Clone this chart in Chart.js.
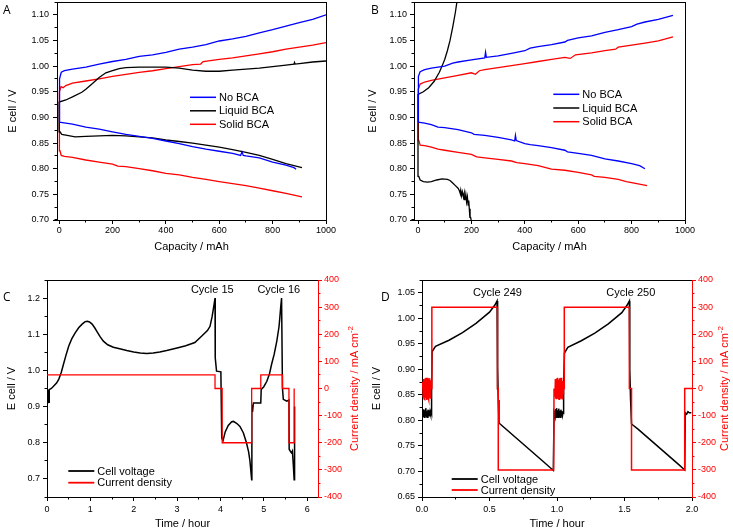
<!DOCTYPE html>
<html>
<head>
<meta charset="utf-8">
<script src="https://cdn.jsdelivr.net/npm/chart.js@4.4.0/dist/chart.umd.min.js"></script>
<style>
  body { margin: 0; background: #fff; width: 733px; height: 531px; position: relative; overflow: hidden; }
  canvas { position: absolute; }
  .letter { position: absolute; font: 12px "Open Sans", sans-serif; line-height: 12px; color: #000; }
</style>
</head>
<body>
<canvas id="chartA" width="366" height="262" style="left:0;top:0"></canvas>
<canvas id="chartB" width="367" height="262" style="left:366px;top:0"></canvas>
<canvas id="chartC" width="366" height="269" style="left:0;top:262px"></canvas>
<canvas id="chartD" width="367" height="269" style="left:366px;top:262px"></canvas>
<div class="letter" style="left:3px;top:4px">A</div>
<div class="letter" style="left:371px;top:4px">B</div>
<div class="letter" style="left:3px;top:291px">C</div>
<div class="letter" style="left:381px;top:291px">D</div>
<script>
// panel A: [capacity mAh, E cell V]
const noBcaChargeA = [[0,0.955],[3,0.975],[8,0.988],[20,0.991],[50,0.994],[100,0.998],[150,1.004],[200,1.009],[250,1.013],[300,1.019],[350,1.022],[400,1.027],[450,1.033],[500,1.037],[550,1.042],[600,1.049],[650,1.053],[700,1.058],[750,1.065],[800,1.071],[850,1.078],[900,1.085],[950,1.091],[1000,1.100]];
const noBcaDischargeA = [[0,0.891],[25,0.889],[50,0.887],[100,0.881],[150,0.877],[200,0.872],[250,0.867],[300,0.863],[350,0.859],[400,0.854],[450,0.849],[500,0.843],[550,0.838],[600,0.834],[650,0.830],[680,0.826],[685,0.833],[690,0.826],[700,0.825],[750,0.821],[800,0.813],[850,0.807],[880,0.802],[888,0.799]];
const liquidChargeA = [[0,0.930],[25,0.934],[50,0.940],[85,0.949],[100,0.955],[125,0.966],[150,0.978],[175,0.987],[200,0.991],[225,0.995],[250,0.997],[300,0.998],[350,0.998],[400,0.998],[450,0.996],[500,0.992],[550,0.990],[600,0.990],[650,0.992],[700,0.994],[750,0.996],[800,0.999],[850,1.002],[880,1.004],[882,1.007],[884,1.004],[900,1.005],[950,1.008],[1000,1.010]];
const liquidDischargeA = [[0,0.889],[3,0.872],[10,0.867],[30,0.865],[60,0.862],[100,0.863],[150,0.864],[200,0.865],[250,0.864],[300,0.862],[350,0.860],[400,0.856],[450,0.853],[500,0.850],[550,0.846],[600,0.842],[650,0.837],[700,0.832],[750,0.826],[800,0.818],[850,0.810],[880,0.806],[910,0.802]];
const solidChargeA = [[0,0.930],[3,0.950],[7,0.960],[15,0.958],[25,0.962],[50,0.967],[100,0.971],[150,0.975],[200,0.980],[250,0.984],[300,0.988],[350,0.991],[400,0.995],[450,0.999],[500,1.003],[530,1.004],[540,1.009],[600,1.013],[650,1.016],[700,1.020],[750,1.024],[800,1.028],[850,1.033],[900,1.037],[950,1.041],[1000,1.046]];
const solidDischargeA = [[0,0.856],[3,0.835],[8,0.826],[20,0.824],[50,0.822],[100,0.817],[150,0.813],[200,0.809],[220,0.805],[250,0.804],[300,0.800],[350,0.796],[400,0.791],[450,0.788],[500,0.783],[550,0.779],[600,0.775],[650,0.771],[700,0.767],[750,0.762],[800,0.757],[850,0.752],[910,0.745]];

// panel B
const noBcaChargeB = [[0,0.958],[3,0.980],[8,0.989],[25,0.993],[50,0.996],[100,1.000],[130,1.006],[150,1.008],[200,1.012],[250,1.016],[253,1.027],[256,1.017],[300,1.020],[350,1.025],[400,1.030],[420,1.035],[450,1.038],[500,1.042],[550,1.047],[560,1.050],[600,1.055],[650,1.059],[700,1.066],[750,1.071],[800,1.077],[820,1.082],[850,1.086],[900,1.091],[955,1.099]];
const noBcaDischargeB = [[0,0.891],[25,0.889],[50,0.886],[75,0.881],[100,0.880],[150,0.876],[200,0.870],[210,0.867],[250,0.865],[300,0.861],[350,0.856],[362,0.854],[365,0.865],[368,0.855],[400,0.849],[420,0.847],[450,0.845],[500,0.841],[550,0.836],[560,0.833],[600,0.830],[650,0.826],[700,0.819],[750,0.815],[800,0.810],[830,0.806],[850,0.800]];
const liquidChargeB = [[0,0.945],[20,0.950],[40,0.958],[60,0.970],[80,0.988],[90,1.000],[100,1.013],[110,1.030],[120,1.050],[130,1.076],[140,1.105],[150,1.140]];
const liquidDischargeB = [[0,0.800],[3,0.785],[8,0.778],[20,0.775],[35,0.774],[50,0.775],[70,0.778],[90,0.780],[110,0.779],[120,0.777],[130,0.772],[140,0.767],[150,0.762],[155,0.757],[158,0.752],[160,0.758],[163,0.747],[166,0.755],[170,0.745],[173,0.752],[176,0.740],[179,0.750],[182,0.735],[185,0.745],[188,0.728],[190,0.738],[193,0.715],[195,0.722],[197,0.705],[199,0.700],[200,0.690]];
const solidChargeB = [[0,0.930],[3,0.955],[8,0.965],[25,0.969],[50,0.972],[100,0.977],[150,0.982],[200,0.987],[215,0.984],[230,0.991],[250,0.993],[300,0.997],[350,1.001],[400,1.005],[450,1.009],[500,1.013],[550,1.017],[570,1.015],[590,1.022],[650,1.026],[700,1.030],[740,1.033],[750,1.037],[800,1.041],[850,1.045],[900,1.049],[955,1.057]];
const solidDischargeB = [[0,0.878],[3,0.855],[8,0.846],[25,0.845],[50,0.842],[75,0.838],[100,0.836],[150,0.832],[200,0.828],[220,0.823],[250,0.821],[300,0.818],[350,0.815],[370,0.812],[400,0.810],[450,0.806],[500,0.799],[550,0.797],[600,0.793],[650,0.788],[660,0.785],[700,0.783],[750,0.779],[780,0.775],[800,0.773],[858,0.767]];

// panel C: [time h, value]
const voltageC = [[0,0.910],[0.008,0.946],[0.016,0.911],[0.024,0.947],[0.032,0.911],[0.040,0.947],[0.048,0.912],[0.052,0.947],[0.10,0.950],[0.15,0.956],[0.22,0.965],[0.27,0.975],[0.33,0.995],[0.38,1.017],[0.44,1.043],[0.50,1.067],[0.57,1.087],[0.65,1.104],[0.73,1.118],[0.81,1.128],[0.88,1.135],[0.93,1.136],[0.98,1.134],[1.04,1.128],[1.10,1.118],[1.15,1.108],[1.22,1.094],[1.30,1.081],[1.40,1.071],[1.53,1.064],[1.70,1.059],[1.84,1.055],[2.00,1.051],[2.15,1.048],[2.30,1.047],[2.45,1.048],[2.60,1.051],[2.76,1.055],[3.00,1.062],[3.20,1.068],[3.41,1.077],[3.57,1.095],[3.70,1.110],[3.76,1.122],[3.81,1.150],[3.85,1.180],[3.875,1.200],[3.88,1.035],[3.91,0.998],[4.01,0.996],[4.03,0.813],[4.06,0.806],[4.11,0.830],[4.18,0.848],[4.26,0.858],[4.30,0.859],[4.38,0.853],[4.45,0.845],[4.53,0.827],[4.60,0.800],[4.65,0.775],[4.68,0.750],[4.72,0.698],[4.725,0.880],[4.73,0.905],[4.74,0.885],[4.76,0.910],[4.80,0.910],[4.93,0.910],[4.94,0.947],[5.00,0.955],[5.07,0.970],[5.13,0.990],[5.18,1.017],[5.24,1.045],[5.30,1.081],[5.35,1.120],[5.37,1.146],[5.39,1.175],[5.41,1.200],[5.43,0.952],[5.45,0.920],[5.53,0.915],[5.58,0.918],[5.585,0.782],[5.62,0.775],[5.64,0.772],[5.66,0.777],[5.68,0.740],[5.70,0.698],[5.71,0.900]];
const currentC = [[0,50],[3.875,50],[3.875,0],[4.04,0],[4.04,-200],[4.72,-200],[4.72,0],[4.93,0],[4.93,50],[5.43,50],[5.43,0],[5.58,0],[5.58,-200],[5.70,-200],[5.70,0]];

// panel D
const voltageD = [[0.005,0.815],[0.010,0.808],[0.013,0.822],[0.017,0.806],[0.020,0.820],[0.024,0.810],[0.028,0.824],[0.032,0.807],[0.036,0.818],[0.040,0.806],[0.044,0.821],[0.048,0.809],[0.052,0.820],[0.056,0.808],[0.060,0.817],[0.064,0.812],[0.068,0.818],[0.070,0.815],[0.072,0.860],[0.075,0.935],[0.10,0.945],[0.20,0.957],[0.30,0.972],[0.40,0.990],[0.50,1.012],[0.54,1.026],[0.556,1.034],[0.558,0.915],[0.560,0.860],[0.562,0.905],[0.565,0.840],[0.570,0.795],[0.60,0.788],[0.70,0.765],[0.80,0.742],[0.90,0.719],[0.973,0.702],[0.978,0.815],[0.985,0.808],[0.989,0.822],[0.993,0.806],[0.997,0.824],[1.001,0.807],[1.005,0.820],[1.009,0.806],[1.013,0.823],[1.017,0.808],[1.021,0.819],[1.025,0.806],[1.029,0.821],[1.033,0.809],[1.037,0.818],[1.041,0.810],[1.045,0.816],[1.048,0.815],[1.050,0.860],[1.055,0.932],[1.08,0.943],[1.18,0.956],[1.28,0.971],[1.38,0.989],[1.48,1.011],[1.52,1.026],[1.536,1.034],[1.538,0.920],[1.540,0.900],[1.545,0.840],[1.552,0.793],[1.60,0.783],[1.70,0.760],[1.80,0.737],[1.90,0.714],[1.946,0.703],[1.950,0.815],[1.960,0.812],[1.970,0.817],[1.980,0.815],[1.995,0.815]];
const currentD = [[0.003,0],[0.006,25],[0.009,-30],[0.012,35],[0.015,-38],[0.018,30],[0.021,-40],[0.024,38],[0.027,-35],[0.030,40],[0.033,-42],[0.036,36],[0.039,-38],[0.042,40],[0.045,-30],[0.048,35],[0.051,-40],[0.054,38],[0.057,-36],[0.060,30],[0.063,-38],[0.066,25],[0.069,0],[0.072,0],[0.074,300],[0.559,300],[0.559,0],[0.565,0],[0.565,-300],[0.975,-300],[0.978,0],[0.985,-30],[0.988,35],[0.991,-38],[0.994,30],[0.997,-40],[1.000,38],[1.003,-35],[1.006,40],[1.009,-36],[1.012,32],[1.015,-40],[1.018,38],[1.021,-30],[1.024,35],[1.027,-38],[1.030,40],[1.033,-35],[1.036,30],[1.039,-38],[1.042,28],[1.045,-20],[1.048,0],[1.053,0],[1.054,300],[1.536,300],[1.536,0],[1.552,0],[1.552,-300],[1.946,-300],[1.946,0],[2.0,0]];

// ticks
const capTicks = [0, 200, 400, 600, 800, 1000];
const voltTicksAB = [0.70, 0.75, 0.80, 0.85, 0.90, 0.95, 1.00, 1.05, 1.10];
const timeTicksC = [0, 1, 2, 3, 4, 5, 6];
const voltTicksC = [0.7, 0.8, 0.9, 1.0, 1.1, 1.2];
const timeTicksD = [0, 0.5, 1.0, 1.5, 2.0];
const voltTicksD = [0.65, 0.70, 0.75, 0.80, 0.85, 0.90, 0.95, 1.00, 1.05];
const currentTicks = [-400, -300, -200, -100, 0, 100, 200, 300, 400];

const FONT = '"Liberation Sans", Arial, sans-serif';
const BLUE = "#0000ff", RED = "#ff0000", BLACK = "#000000";
Chart.defaults.font.family = FONT;
Chart.defaults.color = "#000";

const pts = arr => arr.map(([x, y]) => ({ x, y }));
// discharge branch walked back to 0, then charge branch
const loop = (dis, chg) => pts([...dis].reverse().concat(chg));

const line = (label, data, color, extra = {}) => Object.assign({
  label, data, borderColor: color, backgroundColor: color,
  borderWidth: 1.3, pointRadius: 0, fill: false, tension: 0
}, extra);

function scale(o) {
  const color = o.color || "#000";
  return {
    type: "linear",
    position: o.pos,
    min: o.min,
    max: o.max,
    title: o.title ? { display: true, text: o.title, color, font: { size: 11 }, padding: o.titlePad } : { display: false },
    ticks: {
      color, font: { size: 9 }, padding: o.pad, maxRotation: 0, autoSkip: false,
      callback: v => v.toFixed(o.digits)
    },
    afterBuildTicks: s => { s.ticks = o.ticks.map(v => ({ value: v })); },
    grid: { display: true, drawOnChartArea: false, tickLength: 4, color },
    border: { display: true, color, width: 1 },
    afterFit: s => {
      s.paddingTop = s.paddingBottom = s.paddingLeft = s.paddingRight = 0;
      if (s.isHorizontal()) s.height = o.size; else s.width = o.size;
    }
  };
}

const al = (p) => Math.round(p - 0.5) + 0.5;

const extras = {
  id: "extras",
  afterDraw(chart, args, o) {
    const { ctx, chartArea: a } = chart;
    ctx.save();
    ctx.lineWidth = 1;
    ctx.strokeStyle = "#000";
    ctx.beginPath();
    if (o.top) { ctx.moveTo(a.left, al(a.top)); ctx.lineTo(a.right, al(a.top)); }
    if (o.right) { ctx.moveTo(al(a.right), a.top); ctx.lineTo(al(a.right), a.bottom); }
    ctx.stroke();

    // minor ticks
    for (const [id, step] of Object.entries(o.minor || {})) {
      const s = chart.scales[id];
      ctx.strokeStyle = s.options.border.color;
      ctx.beginPath();
      const n0 = Math.ceil(s.min / step - 1e-6), n1 = Math.floor(s.max / step + 1e-6);
      for (let i = n0; i <= n1; i++) {
        const p = al(s.getPixelForValue(i * step));
        if (s.isHorizontal()) { ctx.moveTo(p, a.bottom); ctx.lineTo(p, a.bottom + 2.5); }
        else if (s.position === "left") { ctx.moveTo(a.left, p); ctx.lineTo(a.left - 2.5, p); }
        else { ctx.moveTo(a.right, p); ctx.lineTo(a.right + 2.5, p); }
      }
      ctx.stroke();
    }

    ctx.font = "11px " + FONT;
    ctx.textBaseline = "middle";
    ctx.fillStyle = "#000";

    // legend
    if (o.legend) {
      const L = o.legend;
      const seen = new Set();
      let row = 0;
      chart.data.datasets.forEach(ds => {
        if (seen.has(ds.label)) return;
        seen.add(ds.label);
        const y = L.y + row * L.rowH;
        ctx.strokeStyle = ds.borderColor;
        ctx.lineWidth = L.width;
        ctx.beginPath();
        ctx.moveTo(L.x, y); ctx.lineTo(L.x + L.len, y);
        ctx.stroke();
        ctx.textAlign = "left";
        ctx.fillText(ds.label, L.x + L.len + 3, y + 0.5);
        row++;
      });
    }

    // notes
    ctx.textAlign = "center";
    (o.notes || []).forEach(n => ctx.fillText(n.text, n.x, n.y));

    // right axis title, reading bottom to top
    if (o.rightTitle) {
      const R = o.rightTitle;
      ctx.fillStyle = R.color;
      ctx.translate(R.x, (a.top + a.bottom) / 2);
      ctx.rotate(-Math.PI / 2);
      const w1 = ctx.measureText(R.text).width;
      ctx.font = "8px " + FONT;
      const w2 = ctx.measureText(R.sup).width;
      const start = -(w1 + w2) / 2;
      ctx.textAlign = "left";
      ctx.fillText(R.sup, start + w1, -4);
      ctx.font = "11px " + FONT;
      ctx.fillText(R.text, start, 0);
    }
    ctx.restore();
  }
};

function makeChart(id, datasets, scales, padding, extraOpts) {
  return new Chart(document.getElementById(id), {
    type: "line",
    data: { datasets },
    options: {
      responsive: false, animation: false, events: [],
      layout: { padding },
      scales,
      plugins: { legend: { display: false }, tooltip: { enabled: false }, extras: extraOpts }
    },
    plugins: [extras]
  });
}

makeChart("chartA", [
  line("No BCA", loop(noBcaDischargeA, noBcaChargeA), BLUE),
  line("Liquid BCA", loop(liquidDischargeA, liquidChargeA), BLACK),
  line("Solid BCA", loop(solidDischargeA, solidChargeA), RED)
], {
  x: scale({ pos: "bottom", min: -8, max: 1000, ticks: capTicks, digits: 0, title: "Capacity / mAh", titlePad: { top: 0, bottom: 8 }, pad: 1, size: 42 }),
  y: scale({ pos: "left", min: 0.70, max: 1.125, ticks: voltTicksAB, digits: 2, title: "E cell / V", titlePad: { top: 6, bottom: 0 }, pad: 4, size: 57 })
}, { top: 2, right: 40, left: 0, bottom: 0 }, {
  top: true, right: true, minor: { x: 100, y: 0.025 },
  legend: { x: 190, y: 97.3, rowH: 13.5, len: 26, width: 1.5 }
});

makeChart("chartB", [
  line("No BCA", loop(noBcaDischargeB, noBcaChargeB), BLUE),
  line("Liquid BCA", loop(liquidDischargeB, liquidChargeB), BLACK),
  line("Solid BCA", loop(solidDischargeB, solidChargeB), RED)
], {
  x: scale({ pos: "bottom", min: -15, max: 1000, ticks: capTicks, digits: 0, title: "Capacity / mAh", titlePad: { top: 0, bottom: 8 }, pad: 1, size: 42 }),
  y: scale({ pos: "left", min: 0.70, max: 1.125, ticks: voltTicksAB, digits: 2, title: "E cell / V", titlePad: { top: 0, bottom: 0 }, pad: 3, size: 48 })
}, { top: 2, right: 48, left: 0, bottom: 0 }, {
  top: true, right: true, minor: { x: 100, y: 0.025 },
  legend: { x: 187.3, y: 94.3, rowH: 13.7, len: 26, width: 1.5 }
});

makeChart("chartC", [
  line("Cell voltage", pts(voltageC), BLACK, { yAxisID: "y", order: 1, borderWidth: 1.5 }),
  line("Current density", pts(currentC), RED, { yAxisID: "y1", order: 0 })
], {
  x: scale({ pos: "bottom", min: 0, max: 6.25, ticks: timeTicksC, digits: 0, title: "Time / hour", titlePad: { top: 0, bottom: 0 }, pad: 3, size: 34 }),
  y: scale({ pos: "left", min: 0.65, max: 1.25, ticks: voltTicksC, digits: 1, title: "E cell / V", titlePad: { top: 5, bottom: 0 }, pad: 3, size: 47 }),
  y1: scale({ pos: "right", min: -400, max: 400, ticks: currentTicks, digits: 0, pad: 2, size: 48, color: RED })
}, { top: 18, right: 0, left: 0, bottom: 0 }, {
  top: true, minor: { x: 0.5, y: 0.05, y1: 50 },
  legend: { x: 68.3, y: 209, rowH: 11.7, len: 26, width: 1.8 },
  notes: [{ text: "Cycle 15", x: 212.3, y: 28 }, { text: "Cycle 16", x: 278.8, y: 28 }],
  rightTitle: { x: 355, text: "Current density / mA cm", sup: "-2", color: RED }
});

makeChart("chartD", [
  line("Cell voltage", pts(voltageD), BLACK, { yAxisID: "y", order: 1, borderWidth: 1.5 }),
  line("Current density", pts(currentD), RED, { yAxisID: "y1", order: 0, borderWidth: 1.5 })
], {
  x: scale({ pos: "bottom", min: 0, max: 2, ticks: timeTicksD, digits: 1, title: "Time / hour", titlePad: { top: 0, bottom: 0 }, pad: 3, size: 34 }),
  y: scale({ pos: "left", min: 0.65, max: 1.075, ticks: voltTicksD, digits: 2, title: "E cell / V", titlePad: { top: 4, bottom: 0 }, pad: 3, size: 56 }),
  y1: scale({ pos: "right", min: -400, max: 400, ticks: currentTicks, digits: 0, pad: 2, size: 41, color: RED })
}, { top: 18, right: 0, left: 0, bottom: 0 }, {
  top: true, minor: { x: 0.25, y: 0.025, y1: 50 },
  legend: { x: 85.7, y: 217, rowH: 11, len: 26, width: 1.8 },
  notes: [{ text: "Cycle 249", x: 131.5, y: 31.3 }, { text: "Cycle 250", x: 264.8, y: 31.3 }],
  rightTitle: { x: 359, text: "Current density / mA cm", sup: "-2", color: RED }
});
</script>
</body>
</html>
